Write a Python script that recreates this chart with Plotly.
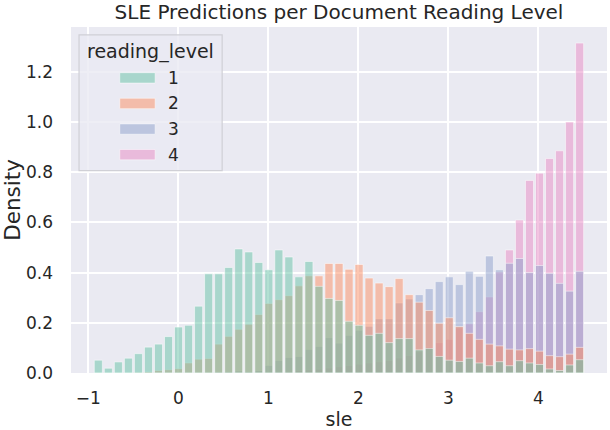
import numpy as np
import plotly.graph_objects as go

# histogram bins (sle), 49 bins
bin_start = -0.944
bin_width = 0.1114
n_bins = 49
sle_centers = bin_start + bin_width * (np.arange(n_bins) + 0.5)

# density per reading level
level_1 = [0.051, 0.019, 0.044, 0.059, 0.077, 0.103, 0.115, 0.145, 0.183, 0.190,
           0.266, 0.395, 0.395, 0.420, 0.494, 0.482, 0.440, 0.411, 0.490, 0.462,
           0.383, 0.444, 0.345, 0.297, 0.289, 0.206, 0.190, 0.150, 0.158, 0.121,
           0.137, 0.137, 0.092, 0.098, 0.066, 0.051, 0.046, 0.059, 0.040, 0.029,
           0.045, 0.029, 0.049, 0.040, 0.034, 0.016, 0.010, 0.032, 0.053]
level_2 = [0.0, 0.0, 0.0, 0.0, 0.002, 0.004, 0.010, 0.013, 0.017, 0.040,
           0.055, 0.058, 0.115, 0.146, 0.174, 0.194, 0.233, 0.277, 0.292, 0.308,
           0.347, 0.387, 0.387, 0.436, 0.436, 0.413, 0.432, 0.378, 0.358, 0.344,
           0.376, 0.312, 0.282, 0.249, 0.198, 0.220, 0.185, 0.158, 0.134, 0.115,
           0.108, 0.095, 0.092, 0.097, 0.087, 0.069, 0.065, 0.075, 0.102]
level_3 = [0.0, 0.0, 0.0, 0.0, 0.0, 0.0, 0.0, 0.0, 0.0, 0.0,
           0.0, 0.002, 0.004, 0.006, 0.008, 0.006, 0.010, 0.030, 0.050, 0.062,
           0.066, 0.094, 0.106, 0.141, 0.119, 0.150, 0.170, 0.186, 0.216, 0.216,
           0.279, 0.295, 0.312, 0.336, 0.364, 0.383, 0.352, 0.405, 0.385, 0.466,
           0.411, 0.437, 0.456, 0.400, 0.428, 0.397, 0.357, 0.326, 0.405]
level_4 = [0.0, 0.0, 0.0, 0.0, 0.0, 0.0, 0.0, 0.0, 0.0, 0.0,
           0.0, 0.0, 0.0, 0.0, 0.0, 0.0, 0.0, 0.0, 0.004, 0.006,
           0.010, 0.012, 0.015, 0.020, 0.025, 0.030, 0.035, 0.040, 0.045, 0.050,
           0.060, 0.070, 0.085, 0.104, 0.121, 0.134, 0.180, 0.196, 0.244, 0.303,
           0.402, 0.490, 0.609, 0.767, 0.796, 0.854, 0.885, 1.000, 1.314]

levels = ['1', '2', '3', '4']
densities = [level_1, level_2, level_3, level_4]
colors = ['rgba(102,194,165,0.5)', 'rgba(252,141,98,0.5)',
          'rgba(141,160,203,0.5)', 'rgba(231,138,195,0.5)']
edge = 'rgba(255,255,255,0.5)'

fig = go.Figure()
# level 1 ends up on top, like seaborn's layering
for lvl, dens, col in reversed(list(zip(levels, densities, colors))):
    fig.add_trace(go.Bar(x=sle_centers, y=dens, width=bin_width * 0.8, name=lvl,
                         marker=dict(color=col, line=dict(color=edge, width=1)),
                         showlegend=False))

# hand-made legend box like matplotlib's
fig.add_shape(type='rect', xref='paper', yref='paper', x0=0.015, x1=0.282,
              y0=0.585, y1=0.977, fillcolor='rgba(234,234,242,0.8)',
              line=dict(color='#d0d0d6', width=1.2), layer='above')
fig.add_annotation(text='reading_level', xref='paper', yref='paper', x=0.148, y=0.928,
                   xanchor='center', yanchor='middle', showarrow=False,
                   font=dict(size=19, color='#262626'))
swatch_y = [0.853, 0.779, 0.705, 0.631]
for lvl, col, sy in zip(levels, colors, swatch_y):
    fig.add_shape(type='rect', xref='paper', yref='paper', x0=0.091, x1=0.157,
                  y0=sy - 0.015, y1=sy + 0.015, fillcolor=col,
                  line=dict(color=edge, width=1), layer='above')
    fig.add_annotation(text=lvl, xref='paper', yref='paper', x=0.192, y=sy,
                       xanchor='center', yanchor='middle', showarrow=False,
                       font=dict(size=17, color='#262626'))

fig.update_layout(
    width=610, height=430,
    barmode='overlay',
    title=dict(text='SLE Predictions per Document Reading Level', x=0.5, xref='paper',
               xanchor='center', y=0.973, yref='container', yanchor='middle',
               font=dict(size=20, color='#262626')),
    font=dict(family='DejaVu Sans', size=17, color='#262626'),
    plot_bgcolor='#eaeaf2', paper_bgcolor='white',
    margin=dict(l=71, r=3, t=27, b=54),
)
fig.update_xaxes(range=[-1.192, 4.763], tickvals=[-1, 0, 1, 2, 3, 4],
                 showgrid=True, gridcolor='white', gridwidth=1.5, zeroline=False,
                 showline=False, ticks='', ticklabelstandoff=13,
                 title=dict(text='sle', font=dict(size=19), standoff=6))
fig.update_yaxes(range=[0, 1.378], tickvals=[0, 0.2, 0.4, 0.6, 0.8, 1.0, 1.2],
                 tickformat='.1f', showgrid=True, gridcolor='white', gridwidth=1.5,
                 zeroline=False, showline=False, ticks='', ticklabelstandoff=17,
                 title=dict(text='Density', font=dict(size=21.5), standoff=3))

# page without the default body margin, so the figure sits at the window corner
fig.write_html("out.html", config={'displayModeBar': False},
               post_script="document.body.style.margin='0';")
